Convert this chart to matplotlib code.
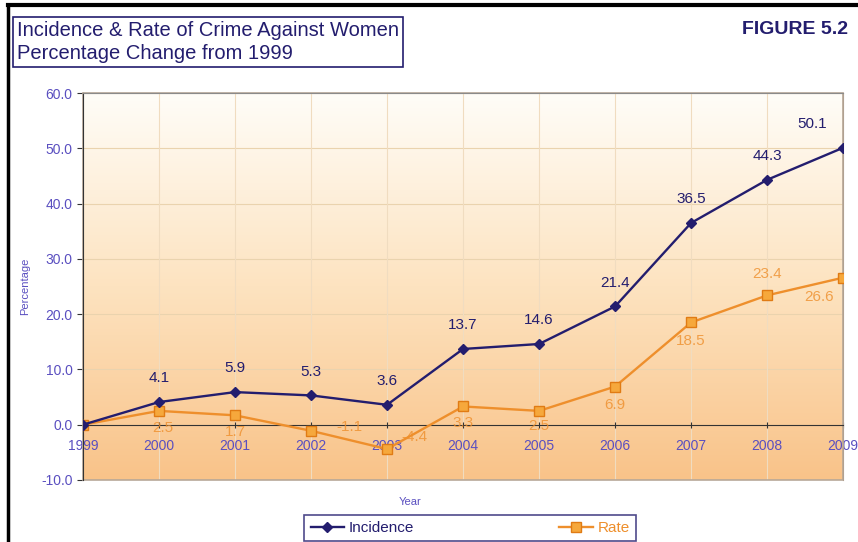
import numpy as np
import matplotlib
matplotlib.use('Agg')
from matplotlib import pyplot as plt
from matplotlib.lines import Line2D
from matplotlib.patches import Rectangle
from matplotlib.colors import LinearSegmentedColormap

plt.rcParams['font.family'] = ['Liberation Sans', 'DejaVu Sans']

years = ['1999', '2000', '2001', '2002', '2003', '2004', '2005', '2006', '2007', '2008', '2009']
incidence = [0, 4.1, 5.9, 5.3, 3.6, 13.7, 14.6, 21.4, 36.5, 44.3, 50.1]
rate = [0, 2.5, 1.7, -1.1, -4.4, 3.3, 2.5, 6.9, 18.5, 23.4, 26.6]

navy = '#231d6e'
orange = '#ee8f2c'
blue = '#5a4fc0'

fig = plt.figure(figsize=(8.58, 5.42), dpi=100)
ax = fig.add_axes([0.0967, 0.1144, 0.886, 0.714])

x = np.arange(len(years))

# gradient background, white at top to orange at bottom
cmap = LinearSegmentedColormap.from_list('bg', ['#fffdf8', '#fde3c0', '#f9c389'])
grad = np.linspace(0, 1, 256).reshape(-1, 1)
ax.imshow(grad, aspect='auto', cmap=cmap, extent=[0, 10, -10, 60], origin='upper', zorder=0)
ax.set_xlim(0, 10)
ax.set_ylim(-10, 60)

for yy in range(-10, 61, 10):
    ax.axhline(yy, color='#ead3ae', lw=0.8, zorder=1)
for xx in x:
    ax.axvline(xx, color='#f0dcc0', lw=0.8, zorder=1)

ax.plot(x, incidence, color=navy, lw=1.7, marker='D', ms=5, mfc=navy, mec=navy, zorder=4)
ax.plot(x, rate, color=orange, lw=1.7, marker='s', ms=6.5, mfc='#f6a83c', mec='#e07b14', zorder=3)

# data labels
inc_off = [None, (0, 12), (0, 12), (0, 12), (0, 12), (0, 12), (0, 12), (0, 12), (0, 12), (0, 12), (-22, 12)]
for i, v in enumerate(incidence):
    if inc_off[i] is None:
        continue
    ax.annotate(f'{v:.1f}', (x[i], v), xytext=inc_off[i], textcoords='offset points',
                ha='center', va='bottom', color=navy, fontsize=11, zorder=5)
rate_off = [None, (3, -7), (0, -7), (28, 3), (20, 9), (0, -7), (0, -6), (0, -8), (0, -8), (0, 10), (-17, -9)]
for i, v in enumerate(rate):
    if rate_off[i] is None:
        continue
    va = 'top'
    if i == 9:
        va = 'bottom'
    if i in (3, 4):
        va = 'center'
    ax.annotate(f'{v:.1f}', (x[i], v), xytext=rate_off[i], textcoords='offset points',
                ha='center', va=va, color=orange, fontsize=11, alpha=0.8, zorder=5)

# axes styling
ax.spines['bottom'].set_position(('data', 0))
ax.spines['bottom'].set_color('#333333')
ax.spines['left'].set_color('#333333')
ax.spines['top'].set_color('#8a8a8a')
ax.spines['right'].set_color('#b0a090')
ax.add_patch(Rectangle((0, -10), 10, 70, fill=False, ec='#b8a898', lw=1.2, zorder=2, clip_on=False))
ax.set_xticks(x)
ax.set_xticklabels(years)
ax.set_yticks(range(-10, 61, 10))
ax.set_yticklabels([f'{t:.1f}' for t in range(-10, 61, 10)])
ax.tick_params(axis='x', colors='#333333', labelcolor=blue, labelsize=10, length=5, direction='inout', pad=8)
ax.tick_params(axis='y', colors='#333333', labelcolor=blue, labelsize=10, length=4)
ax.set_xlabel('Year', color=blue, fontsize=8)
ax.xaxis.set_label_coords(0.43, -0.044)
ax.set_ylabel('Percentage', color=blue, fontsize=8, labelpad=8)

# legend
handles = [Line2D([], [], color=navy, marker='D', ms=5, lw=1.7),
           Line2D([], [], color=orange, marker='s', ms=6.5, mfc='#f6a83c', mec='#e07b14', lw=1.7)]
leg = fig.legend(handles, ['Incidence', 'Rate'], loc='center', bbox_to_anchor=(0.548, 0.026),
                 ncol=2, frameon=True, fancybox=False, fontsize=11, handlelength=2.2,
                 columnspacing=9.5, borderpad=0.4, handletextpad=0.3, borderaxespad=0)
leg.get_frame().set_edgecolor(navy)
leg.get_frame().set_linewidth(1.2)
for t, c in zip(leg.get_texts(), [navy, orange]):
    t.set_color(c)

# title box
fig.text(0.02, 0.922, 'Incidence & Rate of Crime Against Women\nPercentage Change from 1999',
         fontsize=14.5, color=navy, va='center', ha='left', linespacing=1.25,
         bbox=dict(boxstyle='square,pad=0.2', fc='white', ec=navy, lw=1.2))
fig.text(0.988, 0.945, 'FIGURE 5.2', fontsize=14, fontweight='bold', color=navy, ha='right', va='center')

# page border lines
fig.add_artist(Line2D([0.009, 1], [0.99, 0.99], color='black', lw=3, transform=fig.transFigure))
fig.add_artist(Line2D([0.009, 0.009], [0, 0.99], color='black', lw=2.5, transform=fig.transFigure))

fig.savefig('out.png', dpi=100)
